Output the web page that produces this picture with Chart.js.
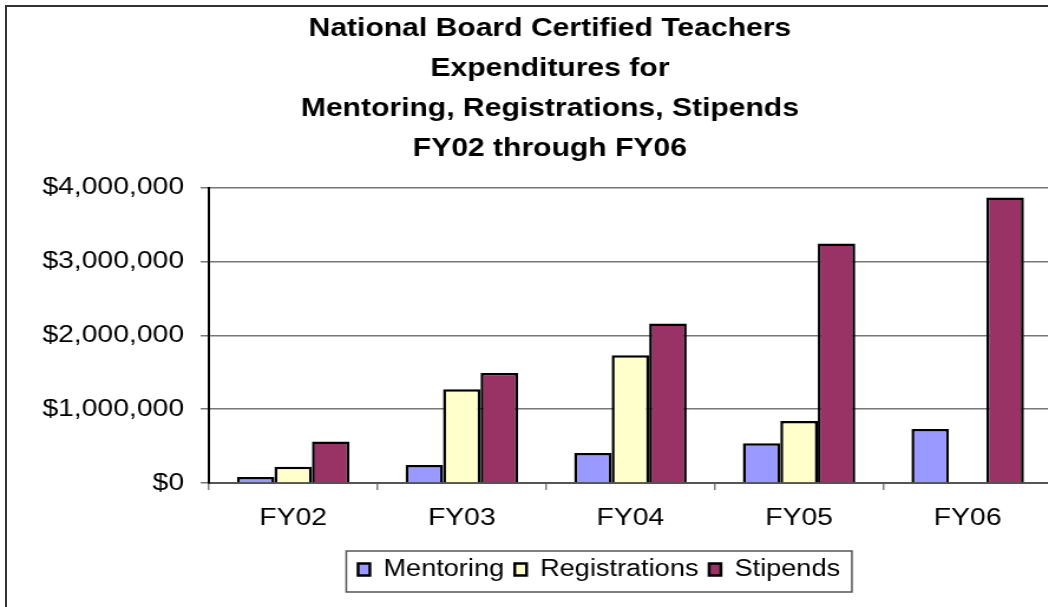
<!DOCTYPE html>
<html>
<head>
<meta charset="utf-8">
<script src="https://cdn.jsdelivr.net/npm/chart.js@4.4.1/dist/chart.umd.min.js"></script>
<style>
    html, body { margin: 0; padding: 0; overflow: hidden; background: #fff; width: 1048px; height: 607px; }
    #frame { position: absolute; left: 5px; top: 5px; width: 1100px; height: 700px; border: 2px solid #333; }
    #wrap { position: absolute; left: 0; top: 0; width: 932px; height: 607px; transform: scaleX(1.18); transform-origin: 0 0; }
</style>
</head>
<body>
<div id="frame"></div>
<div id="wrap"><canvas id="nbctChart" width="932" height="607"></canvas></div>
<script>
    const years = ['FY02', 'FY03', 'FY04', 'FY05', 'FY06'];
    const mentoring = [80000, 243000, 405000, 540000, 730000];
    const registrations = [220000, 1270000, 1730000, 838000, null];
    const stipends = [563000, 1490000, 2160000, 3243000, 3865000];
    const titleLines = ['National Board Certified Teachers', 'Expenditures for', 'Mentoring, Registrations, Stipends', 'FY02 through FY06'];

    const FONT = '"Liberation Sans", Arial, sans-serif';
    Chart.defaults.font.family = FONT;
    Chart.defaults.color = '#000';

    // Excel puts the legend a bit right of the title, and frames it
    const legendFrame = {
        id: 'legendFrame',
        afterLayout(chart) {
            chart.legend.left += 41.7;
            chart.legend.right += 41.7;
        },
        afterDraw(chart) {
            const boxes = chart.legend.legendHitBoxes;
            if (!boxes || !boxes.length) return;
            const left = Math.min(...boxes.map(b => b.left)) - 10;
            const right = Math.max(...boxes.map(b => b.left + b.width)) + 10;
            const top = chart.legend.top + 2;
            const ctx = chart.ctx;
            ctx.save();
            ctx.strokeStyle = '#555';
            ctx.lineWidth = 1.5;
            ctx.strokeRect(left, top, right - left, 41);
            ctx.restore();
        }
    };

    function series(label, data, color) {
        return {
            label: label,
            data: data,
            backgroundColor: color,
            borderColor: '#000',
            borderWidth: 2.5,
            categoryPercentage: 0.667,
            barPercentage: 1.0
        };
    }

    const ctx = document.getElementById('nbctChart').getContext('2d');
    const nbctChart = new Chart(ctx, {
        type: 'bar',
        data: {
            labels: years,
            datasets: [
                series('Mentoring', mentoring, '#9999FF'),
                series('Registrations', registrations, '#FFFFCC'),
                series('Stipends', stipends, '#993366')
            ]
        },
        options: {
            responsive: false,
            animation: false,
            devicePixelRatio: 1,
            layout: { padding: { left: 0, right: 0, top: 0, bottom: 16 } },
            plugins: {
                title: {
                    display: true,
                    text: titleLines,
                    font: { family: FONT, size: 25.5, weight: 'bold', lineHeight: 1.57 },
                    color: '#000',
                    padding: { top: 8.5, bottom: 19 }
                },
                legend: {
                    position: 'bottom',
                    labels: {
                        boxWidth: 10,
                        boxHeight: 12,
                        padding: 9,
                        font: { family: FONT, size: 23 },
                        color: '#000'
                    }
                },
                tooltip: { enabled: false }
            },
            scales: {
                x: {
                    grid: { drawOnChartArea: false, tickLength: 7, color: '#808080', lineWidth: 1.5, offset: true },
                    border: { color: '#555', width: 2 },
                    ticks: { font: { family: FONT, size: 24 }, padding: 14, color: '#000' },
                    afterFit: s => { s.height = 66; }
                },
                y: {
                    min: 0,
                    max: 4000000,
                    ticks: {
                        stepSize: 1000000,
                        font: { family: FONT, size: 24 },
                        padding: 14,
                        color: '#000',
                        callback: v => '$' + v.toLocaleString('en-US')
                    },
                    grid: { color: '#777', lineWidth: 1.5, tickLength: 7 },
                    border: { color: '#000', width: 2 },
                    afterFit: s => { s.width = 177; }
                },
                // empty strip on the right so the plot runs off the edge like the original
                y2: {
                    position: 'right',
                    grid: { display: false },
                    ticks: { display: false },
                    border: { display: false },
                    afterFit: s => { s.width = 40.5; }
                }
            }
        },
        plugins: [legendFrame]
    });
</script>
</body>
</html>
